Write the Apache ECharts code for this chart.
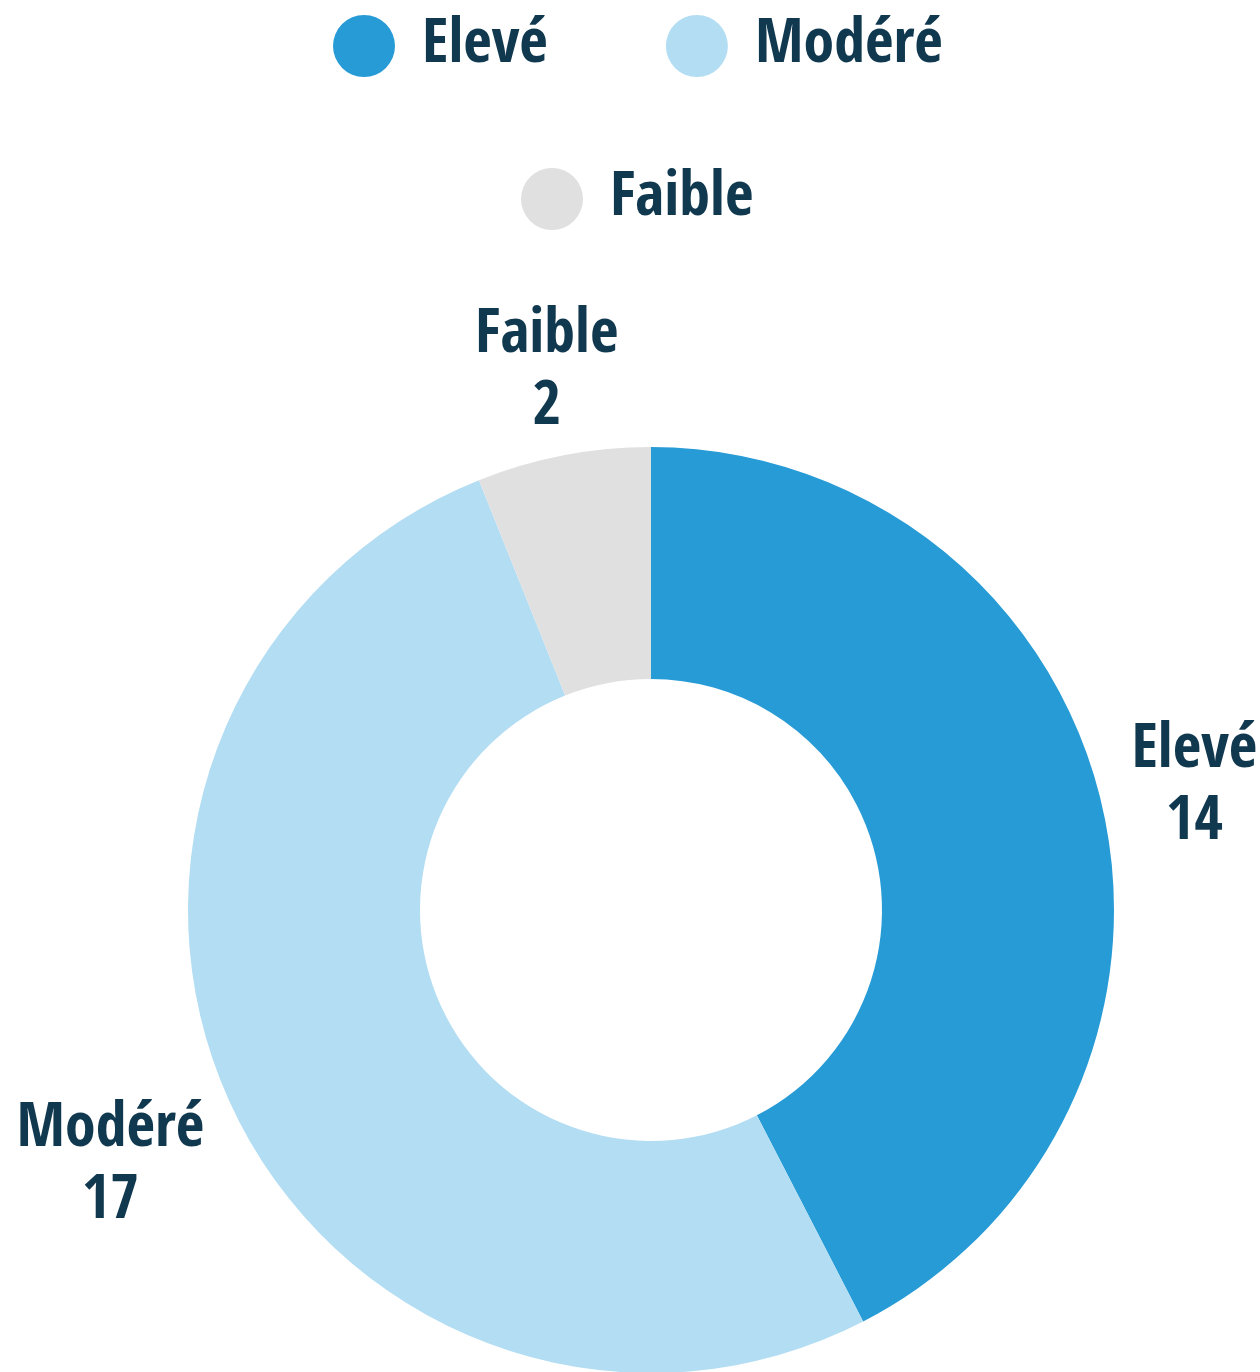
<!DOCTYPE html>
<html>
<head>
<meta charset="utf-8">
<style>
html,body{margin:0;padding:0;background:#fff;}
#chart{width:1260px;height:1372px;}
</style>
<script src="https://cdn.jsdelivr.net/npm/echarts@6/dist/echarts.min.js"></script>
</head>
<body>
<div id="chart"></div>
<script>
var categories = ['Elevé', 'Modéré', 'Faible'];
var values = [14, 17, 2];
var colors = ['#279bd6', '#b2ddf3', '#e0e0e0'];

var FONT = "'Open Sans Condensed', 'Liberation Sans Narrow', 'DejaVu Sans Condensed', 'Open Sans', sans-serif";
var TXT = '#10384f';

var chart = echarts.init(document.getElementById('chart'));
var legendText = { color: TXT, fontSize: 62, fontWeight: 'bold', fontFamily: FONT, padding: [2, 0, 0, 22] };

chart.setOption({
  animation: false,
  color: colors,
  legend: [
    {
      data: categories.slice(0, 2),
      top: 10, left: 328,
      icon: 'circle', itemWidth: 62, itemHeight: 62, itemGap: 118,
      textStyle: legendText, selectedMode: false
    },
    {
      data: categories.slice(2),
      top: 163, left: 516,
      icon: 'circle', itemWidth: 62, itemHeight: 62, itemGap: 118,
      textStyle: legendText, selectedMode: false
    }
  ],
  series: [{
    type: 'pie',
    center: [651, 910],
    radius: [231, 463],
    startAngle: 90,
    clockwise: true,
    avoidLabelOverlap: false,
    data: categories.map(function (c, i) { return { name: c, value: values[i] }; }),
    label: {
      show: true,
      position: 'outside',
      formatter: '{b}\n{c}',
      color: TXT,
      fontSize: 62,
      fontWeight: 'bold',
      fontFamily: FONT,
      lineHeight: 72,
      align: 'center'
    },
    labelLine: { show: true, length: 10, length2: 0, lineStyle: { opacity: 0 } },
    labelLayout: function (p) {
      var pts = p.labelLinePoints;
      if (!pts) return {};
      var ux = pts[1][0] - pts[0][0], uy = pts[1][1] - pts[0][1];
      var n = Math.sqrt(ux * ux + uy * uy) || 1;
      ux /= n; uy /= n;
      var w = p.labelRect.width, h = p.labelRect.height;
      var d = 16 * Math.abs(ux) + 6 * Math.abs(uy) + Math.abs(ux) * w / 2 + Math.abs(uy) * h / 2;
      return { x: pts[0][0] + ux * d + 1, y: pts[0][1] + uy * d + 8, align: 'center', verticalAlign: 'middle' };
    },
    emphasis: { disabled: true },
    itemStyle: { borderWidth: 0 }
  }]
});
</script>
</body>
</html>
